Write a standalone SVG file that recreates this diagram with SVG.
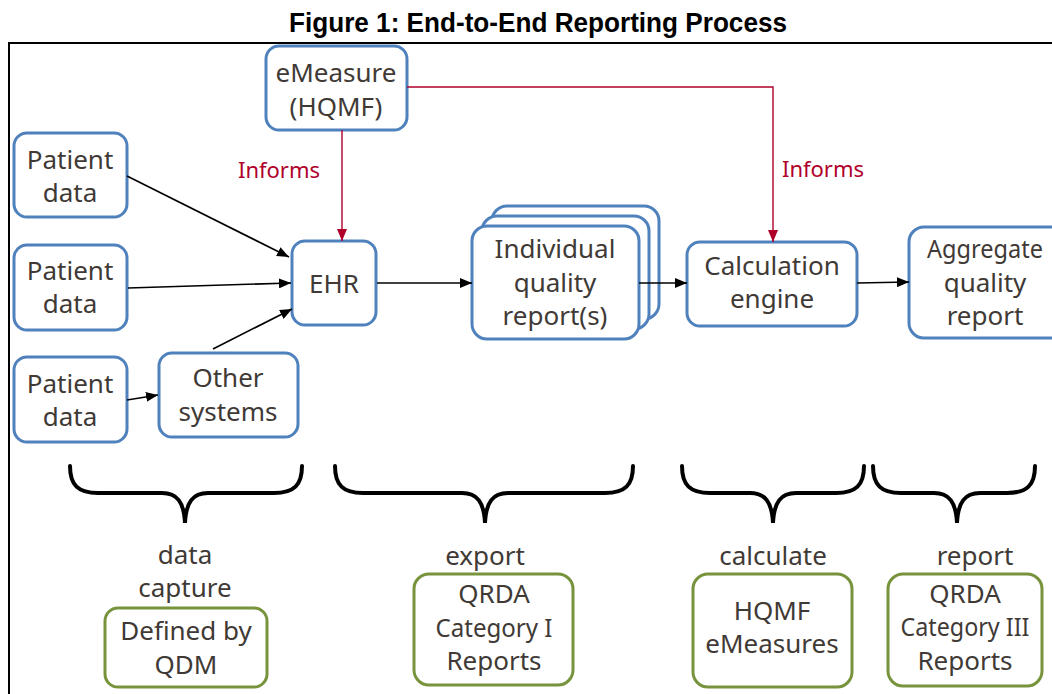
<svg xmlns="http://www.w3.org/2000/svg" width="1052" height="694" viewBox="0 0 1052 694">
<style>
.n{fill:#fff;stroke:#4F81BD;stroke-width:3}
.g{fill:#fff;stroke:#77933C;stroke-width:3}
.t{font-family:"Noto Sans","Liberation Sans",sans-serif;font-size:26px;fill:#3F3A36;text-anchor:middle}
.inf{font-family:"Noto Sans","Liberation Sans",sans-serif;font-size:22px;fill:#B0002A;text-anchor:middle}
.k{fill:none;stroke:#000;stroke-width:1.6}
.r{fill:none;stroke:#B0002A;stroke-width:1.4}
.b{fill:none;stroke:#000;stroke-width:4;stroke-linecap:round}
</style>
<defs>
<marker id="ah" markerUnits="userSpaceOnUse" markerWidth="12" markerHeight="10" refX="12" refY="5" orient="auto"><path d="M0,0 L12,5 L0,10 Z" fill="#000"/></marker>
<marker id="ar" markerUnits="userSpaceOnUse" markerWidth="12" markerHeight="10" refX="12" refY="5" orient="auto"><path d="M0,0 L12,5 L0,10 Z" fill="#B0002A"/></marker>
</defs>
<rect width="1052" height="694" fill="#fff"/>
<text x="538" y="32" font-family="'Liberation Sans',Arial,sans-serif" font-weight="bold" font-size="27" text-anchor="middle" textLength="498" lengthAdjust="spacingAndGlyphs">Figure 1: End-to-End Reporting Process</text>
<path d="M9,694 V43 H1052" fill="none" stroke="#000" stroke-width="2"/>

<g id="emeasure"><rect class="n" x="266" y="46" width="141" height="84" rx="13"/><text class="t" x="336" y="82">eMeasure</text><text class="t" x="336" y="116">(HQMF)</text></g>
<g id="patient1"><rect class="n" x="14" y="133" width="113" height="84" rx="13"/><text class="t" x="70" y="169">Patient</text><text class="t" x="70" y="202">data</text></g>
<g id="patient2"><rect class="n" x="14" y="245" width="113" height="85" rx="13"/><text class="t" x="70" y="280">Patient</text><text class="t" x="70" y="313">data</text></g>
<g id="patient3"><rect class="n" x="14" y="357" width="113" height="85" rx="13"/><text class="t" x="70" y="393">Patient</text><text class="t" x="70" y="426">data</text></g>
<g id="other"><rect class="n" x="159" y="353" width="139" height="84" rx="13"/><text class="t" x="228" y="387">Other</text><text class="t" x="228" y="421">systems</text></g>
<g id="ehr"><rect class="n" x="292" y="241" width="84" height="84" rx="13"/><text class="t" x="334" y="293">EHR</text></g>
<g id="iqr"><rect class="n" x="492" y="206" width="167" height="113" rx="15"/><rect class="n" x="482" y="216" width="167" height="113" rx="15"/><rect class="n" x="472" y="226" width="167" height="113" rx="15"/><text class="t" x="555" y="258">Individual</text><text class="t" x="555" y="292">quality</text><text class="t" x="555" y="325">report(s)</text></g>
<g id="calc"><rect class="n" x="687" y="242" width="170" height="84" rx="13"/><text class="t" x="772" y="275">Calculation</text><text class="t" x="772" y="308">engine</text></g>
<g id="aggregate"><rect class="n" x="909" y="227" width="160" height="111" rx="15"/><text class="t" x="985" y="258" textLength="116" lengthAdjust="spacingAndGlyphs">Aggregate</text><text class="t" x="985" y="292">quality</text><text class="t" x="985" y="325">report</text></g>

<g id="braces">
<path class="b" d="M70,466 C70,485 78,493 98,493 H162 C177,493 184,502 185,523 C186,502 193,493 208,493 H274 C294,493 302,485 302,466"/>
<path class="b" d="M335,466 C335,485 343,493 363,493 H462 C477,493 484,502 485,523 C486,502 493,493 508,493 H605 C625,493 633,485 633,466"/>
<path class="b" d="M682,466 C682,485 690,493 710,493 H750 C765,493 772,502 773,523 C774,502 781,493 796,493 H836 C856,493 864,485 864,466"/>
<path class="b" d="M873,466 C873,485 881,493 901,493 H934 C949,493 956,502 957,523 C958,502 965,493 980,493 H1007 C1027,493 1035,485 1035,466"/>
</g>

<g id="phase-capture"><text class="t" x="185" y="564">data</text><text class="t" x="185" y="597">capture</text><rect class="g" x="105" y="608" width="162" height="79" rx="13"/><text class="t" x="186" y="640">Defined by</text><text class="t" x="186" y="674">QDM</text></g>
<g id="phase-export"><text class="t" x="485" y="565">export</text><rect class="g" x="414" y="574" width="159" height="111" rx="15"/><text class="t" x="494" y="603">QRDA</text><text class="t" x="494" y="637" textLength="117" lengthAdjust="spacingAndGlyphs">Category I</text><text class="t" x="494" y="670">Reports</text></g>
<g id="phase-calc"><text class="t" x="773" y="565">calculate</text><rect class="g" x="693" y="574" width="159" height="113" rx="15"/><text class="t" x="772" y="620">HQMF</text><text class="t" x="772" y="653">eMeasures</text></g>
<g id="phase-report"><text class="t" x="975" y="565">report</text><rect class="g" x="888" y="574" width="154" height="112" rx="15"/><text class="t" x="965" y="603">QRDA</text><text class="t" x="965" y="636" textLength="129" lengthAdjust="spacingAndGlyphs">Category III</text><text class="t" x="965" y="670">Reports</text></g>

<g id="connectors">
<line class="k" x1="127" y1="176" x2="289" y2="257" marker-end="url(#ah)"/>
<line class="k" x1="128" y1="288" x2="291" y2="283" marker-end="url(#ah)"/>
<line class="k" x1="127" y1="400" x2="158" y2="395" marker-end="url(#ah)"/>
<line class="k" x1="213" y1="349" x2="292" y2="309" marker-end="url(#ah)"/>
<line class="k" x1="377" y1="283" x2="472" y2="283" marker-end="url(#ah)"/>
<line class="k" x1="639" y1="283" x2="687" y2="283" marker-end="url(#ah)"/>
<line class="k" x1="857" y1="283" x2="909" y2="282" marker-end="url(#ah)"/>
<path class="r" d="M342,130 V241" marker-end="url(#ar)"/>
<path class="r" d="M407,87 H773 V242" marker-end="url(#ar)"/>
<text class="inf" x="279" y="178">Informs</text>
<text class="inf" x="823" y="177">Informs</text>
</g>
</svg>
